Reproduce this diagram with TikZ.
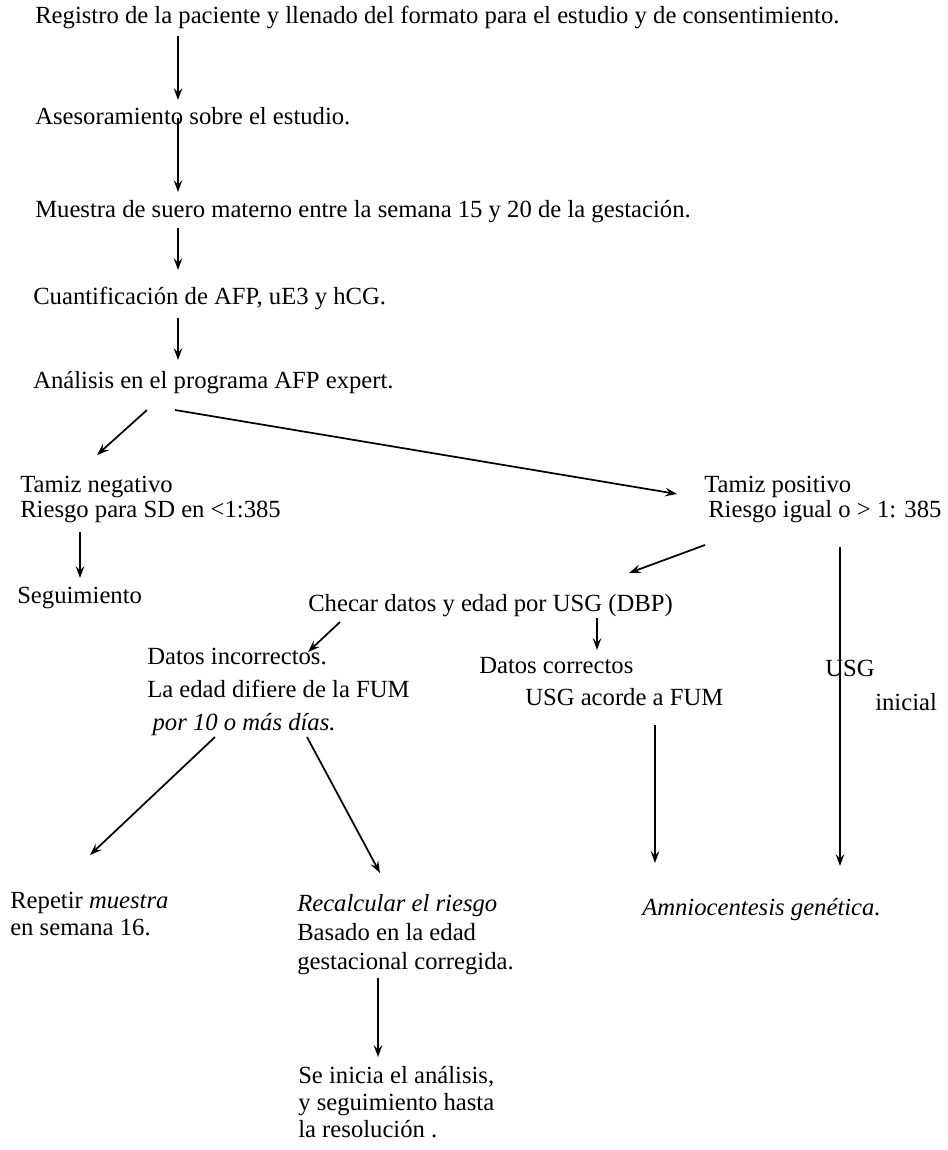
\documentclass[tikz,border=0pt]{standalone}
\usepackage{fontspec}
\setmainfont{Liberation Serif}
\usetikzlibrary{arrows.meta, positioning}
\tikzstyle{txt} = [anchor=base west, inner sep=0pt, align=left, font=\fontsize{18.5pt}{20pt}\selectfont]
\tikzstyle{arrow} = [line width=1.3pt,->,>={Stealth[length=9pt,width=6.5pt,inset=3.5pt]}]

\begin{document}
\begin{tikzpicture}[x=0.75pt, y=-0.75pt]
        \useasboundingbox (0,0) rectangle (947,1150);

        % multi-line nodes sit on the baseline of their last line
        \node (reg) [txt] at (35,23) {Registro de la paciente y llenado del formato para el estudio y de consentimiento.};
        \node (ases) [txt] at (35,124) {Asesoramiento sobre el estudio.};
        \node (muestra) [txt] at (35,217) {Muestra de suero materno entre la semana 15 y 20 de la gestación.};
        \node (cuant) [txt] at (33,304) {Cuantificación de AFP, uE3 y hCG.};
        \node (analisis) [txt] at (33,388) {Análisis en el programa AFP expert.};
        \node (tneg) [txt, font=\fontsize{18.5pt}{18.75pt}\selectfont] at (20,517) {Tamiz negativo\\Riesgo para SD en <1:385};
        \node (tpos) [txt, font=\fontsize{18.5pt}{18.75pt}\selectfont] at (704,517) {Tamiz positivo\\\hspace*{3pt}Riesgo igual o > 1: 385};
        \node (seg) [txt] at (17,603) {Seguimiento};
        \node (checar) [txt] at (308,611) {Checar datos y edad por USG (DBP)};
        \node (dinc) [txt, font=\fontsize{18.5pt}{24.4pt}\selectfont] at (147,730) {Datos incorrectos.\\La edad difiere de la FUM\\\hspace*{4pt}\textit{por 10 o más días.}};
        \node (dcor) [txt, font=\fontsize{18.5pt}{24pt}\selectfont] at (479,705) {Datos correctos\\\hspace*{34.5pt}USG acorde a FUM};
        \node (usg) [txt] at (825,676) {USG};
        \node (usgini) [txt] at (875,710) {inicial};
        \node (repetir) [txt, font=\fontsize{18.5pt}{20.25pt}\selectfont] at (10,935) {Repetir \textit{muestra}\\en semana 16.};
        \node (recalc) [txt, font=\fontsize{18.5pt}{21.75pt}\selectfont] at (297,969) {\textit{Recalcular el riesgo}\\Basado en la edad\\gestacional corregida.};
        \node (amnio) [txt] at (642,915) {\textit{Amniocentesis genética.}};
        \node (inicia) [txt, font=\fontsize{18.5pt}{20.25pt}\selectfont] at (298,1137) {Se inicia el análisis,\\y seguimiento hasta\\la resolución .};

        \draw [arrow] ([shift={(143,13)}]reg.base west) -- ([shift={(143,-24)}]ases.base west);
        \draw [arrow] ([shift={(143,-6)}]ases.base west) -- ([shift={(143,-25)}]muestra.base west);
        \draw [arrow] ([shift={(143,11)}]muestra.base west) -- ([shift={(145,-34)}]cuant.base west);
        \draw [arrow] ([shift={(145,14)}]cuant.base west) -- ([shift={(145,-28)}]analisis.base west);
        \draw [arrow] ([shift={(114,22)}]analisis.base west) -- ([shift={(77,-62)}]tneg.base west);
        \draw [arrow] ([shift={(142,22)}]analisis.base west) -- ([shift={(-27,-23)}]tpos.base west);
        \draw [arrow] ([shift={(60,15)}]tneg.base west) -- ([shift={(63,-25)}]seg.base west);
        \draw [arrow] ([shift={(1,28)}]tpos.base west) -- ([shift={(321,-38)}]checar.base west);
        \draw [arrow] ([shift={(136,30)}]tpos.base west) -- ([shift={(198,-49)}]amnio.base west);
        \draw [arrow] ([shift={(32,11)}]checar.base west) -- ([shift={(161,-78)}]dinc.base west);
        \draw [arrow] ([shift={(289,7)}]checar.base west) -- ([shift={(118,-55)}]dcor.base west);
        \draw [arrow] ([shift={(68,7)}]dinc.base west) -- ([shift={(80,-80)}]repetir.base west);
        \draw [arrow] ([shift={(160,7)}]dinc.base west) -- ([shift={(83,-96)}]recalc.base west);
        \draw [arrow] ([shift={(176,20)}]dcor.base west) -- ([shift={(13,-52)}]amnio.base west);
        \draw [arrow] ([shift={(81,9)}]recalc.base west) -- ([shift={(80,-80)}]inicia.base west);
\end{tikzpicture}
\end{document}
